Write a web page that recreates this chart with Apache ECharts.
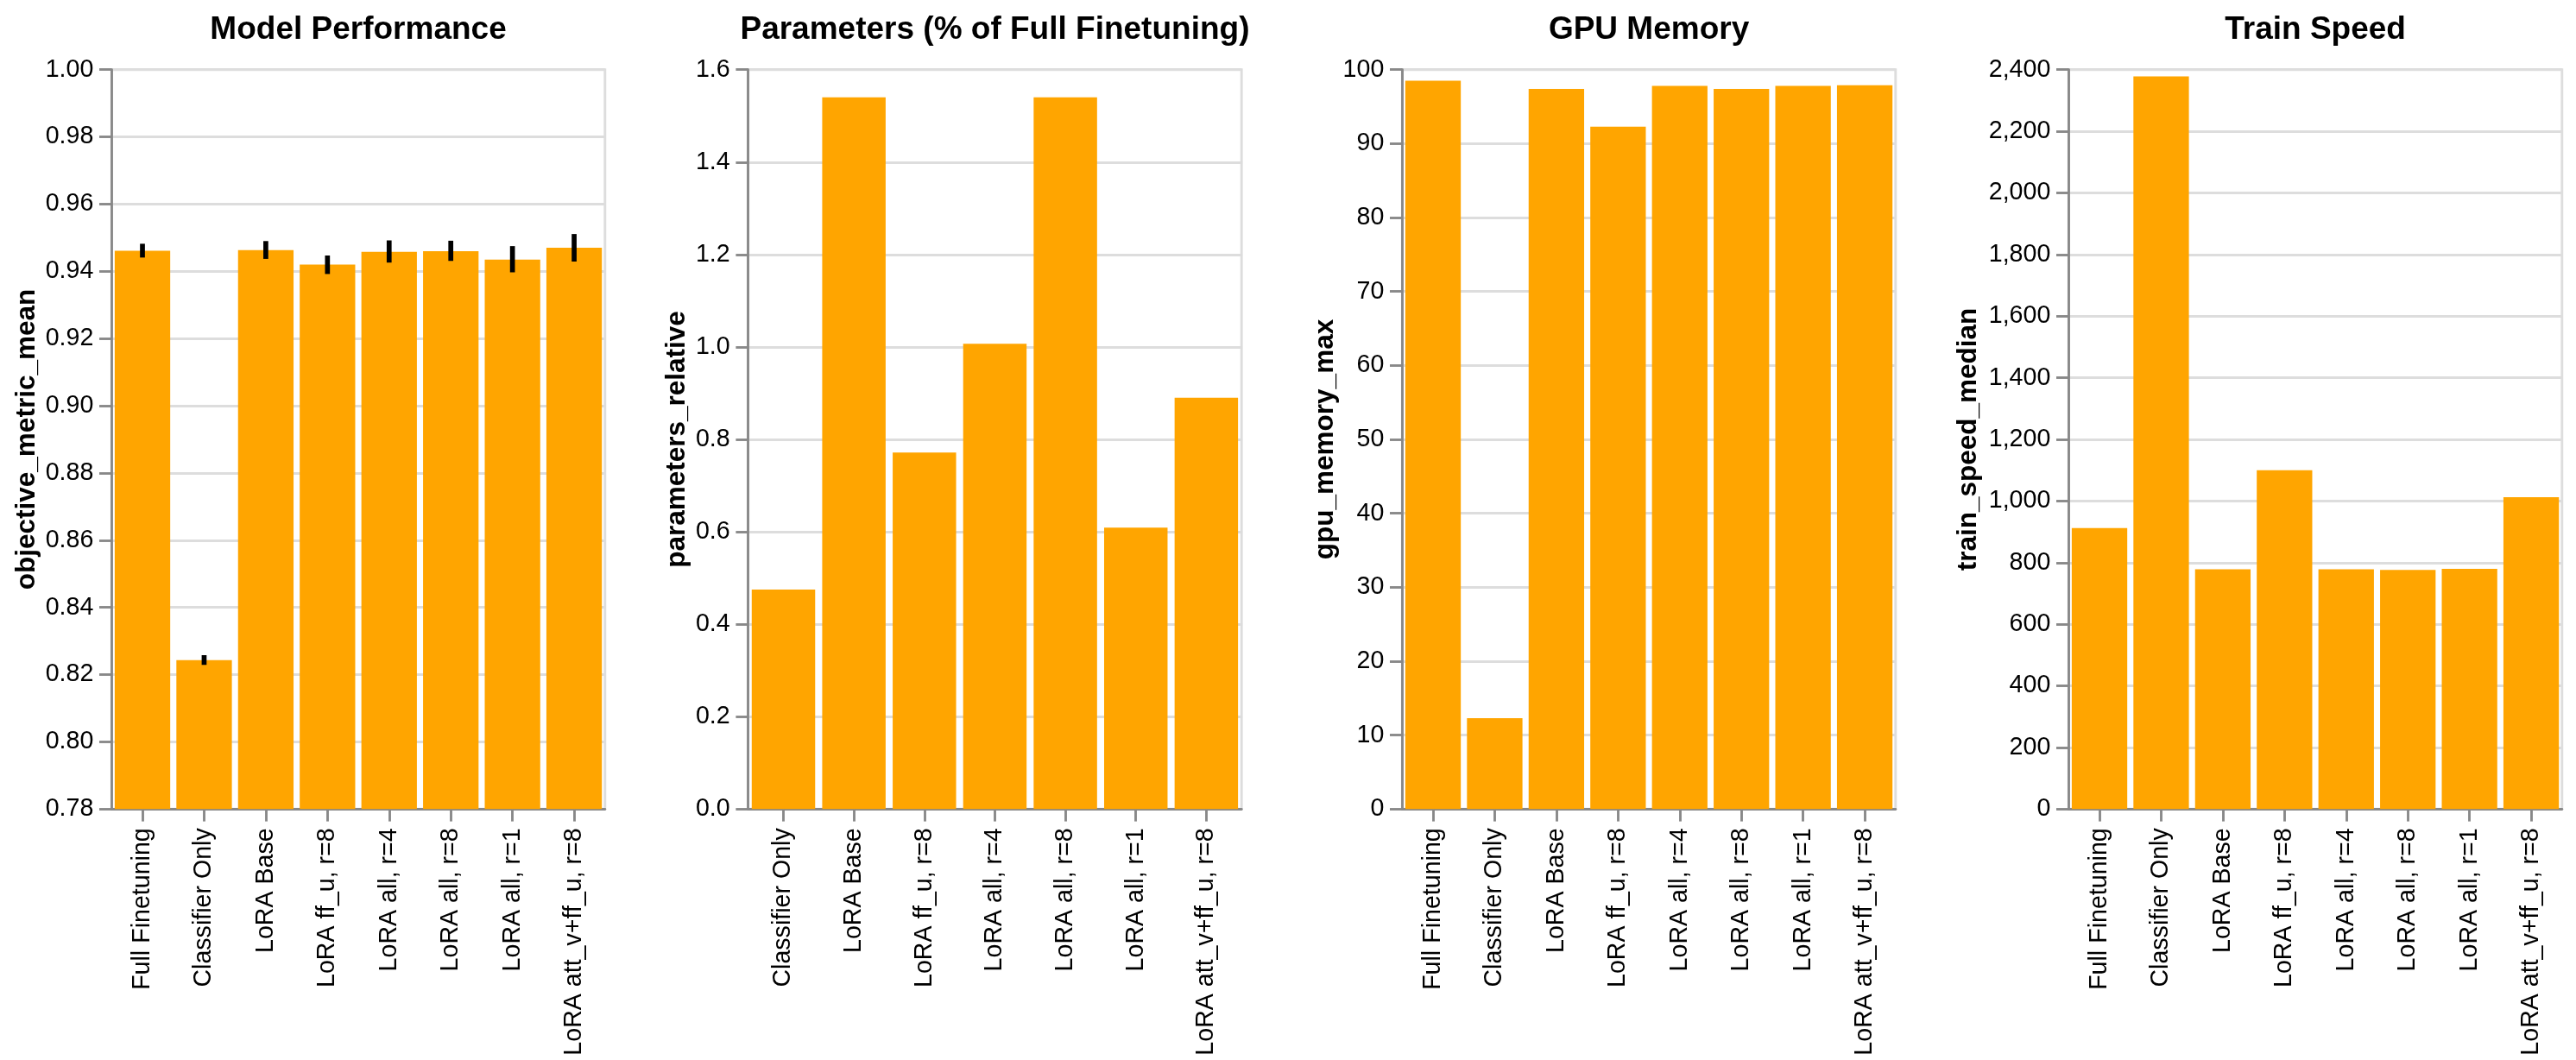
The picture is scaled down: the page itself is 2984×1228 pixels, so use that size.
<!DOCTYPE html>
<html>
<head>
<meta charset="utf-8">
<script src="https://cdn.jsdelivr.net/npm/echarts@6/dist/echarts.min.js"></script>
<style>
  html, body { margin: 0; padding: 0; background: #fff; }
  #chart { width: 2984px; height: 1228px; }
</style>
</head>
<body>
<div id="chart"></div>
<script>
// ---- Data ----
const titles = ['Model Performance', 'Parameters (% of Full Finetuning)', 'GPU Memory', 'Train Speed'];
const axisNames = ['objective_metric_mean', 'parameters_relative', 'gpu_memory_max', 'train_speed_median'];

const categoriesAll = ['Full Finetuning', 'Classifier Only', 'LoRA Base', 'LoRA ff_u, r=8',
  'LoRA all, r=4', 'LoRA all, r=8', 'LoRA all, r=1', 'LoRA att_v+ff_u, r=8'];
const categoriesParams = ['Classifier Only', 'LoRA Base', 'LoRA ff_u, r=8',
  'LoRA all, r=4', 'LoRA all, r=8', 'LoRA all, r=1', 'LoRA att_v+ff_u, r=8'];

const metricMean = [0.9461, 0.8243, 0.9463, 0.9420, 0.9458, 0.9460, 0.9435, 0.9470];
const metricLow  = [0.9441, 0.8229, 0.9437, 0.9392, 0.9426, 0.9431, 0.9397, 0.9429];
const metricHigh = [0.9482, 0.8258, 0.9490, 0.9447, 0.9492, 0.9491, 0.9475, 0.9511];

const paramsRelative = [0.475, 1.540, 0.7715, 1.007, 1.540, 0.609, 0.890];
const gpuMemoryMax = [98.5, 12.3, 97.4, 92.3, 97.8, 97.4, 97.8, 97.9];
const trainSpeedMedian = [912, 2378, 778, 1100, 778, 776, 780, 1012];

const yRanges = [
  { min: 0.78, max: 1.0, interval: 0.02, digits: 2 },
  { min: 0, max: 1.6, interval: 0.2, digits: 1 },
  { min: 0, max: 100, interval: 10, digits: 0 },
  { min: 0, max: 2400, interval: 200, digits: 0 }
];

// ---- Styles ----
const S = 2.86;
const FONT = '"Liberation Sans", Arial, Helvetica, sans-serif';
const BAR = '#FFA500';
const plotLefts = [129.3, 866.7, 1624.3, 2396.3];
const plotWidth = 571.5;
const plotTop = 80.7;
const plotHeight = 856.6;
const nameGaps = [82, 66, 69, 100];

const grids = plotLefts.map(l => ({
  left: l, top: plotTop, width: plotWidth, height: plotHeight,
  containLabel: false, outerBoundsMode: 'none',
  show: true, borderColor: '#ddd', borderWidth: S, backgroundColor: 'transparent'
}));

const catSets = [categoriesAll, categoriesParams, categoriesAll, categoriesAll];

const xAxes = catSets.map((cats, i) => ({
  type: 'category', gridIndex: i, data: cats,
  boundaryGap: true,
  axisLine: { show: true, lineStyle: { color: '#888', width: S } },
  axisTick: { show: true, alignWithLabel: true, length: 14.3, lineStyle: { color: '#888', width: S } },
  axisLabel: { interval: 0, rotate: 90, margin: 22, color: '#000', fontSize: 28.6, fontFamily: FONT, hideOverlap: false },
  splitLine: { show: false }
}));

function fmt(v, d) {
  const s = Number(v).toFixed(d);
  if (d === 0) return Number(s).toLocaleString('en-US');
  return s;
}

const yAxes = yRanges.map((r, i) => ({
  type: 'value', gridIndex: i, min: r.min, max: r.max, interval: r.interval,
  name: axisNames[i], nameLocation: 'middle', nameGap: nameGaps[i], nameRotate: 90,
  nameTextStyle: { color: '#000', fontSize: 31.5, fontWeight: 'bold', fontFamily: FONT },
  axisLine: { show: true, lineStyle: { color: '#888', width: S } },
  axisTick: { show: true, length: 14.3, lineStyle: { color: '#888', width: S } },
  axisLabel: { margin: 21, color: '#000', fontSize: 28.6, fontFamily: FONT,
    formatter: v => fmt(v, r.digits) },
  splitLine: { show: true, lineStyle: { color: '#ddd', width: S } }
}));

const titleOpts = titles.map((t, i) => ({
  text: t, left: plotLefts[i] + plotWidth / 2, textAlign: 'center', top: 16, padding: 0,
  textStyle: { color: '#000', fontSize: 37, fontWeight: 'bold', fontFamily: FONT }
}));

const barStyle = { color: BAR };
const series = [
  { type: 'bar', xAxisIndex: 0, yAxisIndex: 0, data: metricMean, barCategoryGap: '10%', itemStyle: barStyle, silent: true },
  {
    type: 'custom', xAxisIndex: 0, yAxisIndex: 0,
    data: metricMean.map((_, k) => [k, metricLow[k], metricHigh[k]]),
    encode: { x: 0, y: [1, 2] }, silent: true, z: 5,
    renderItem: (params, api) => {
      const x = api.value(0);
      const lo = api.coord([x, api.value(1)]);
      const hi = api.coord([x, api.value(2)]);
      return { type: 'line', shape: { x1: lo[0], y1: lo[1], x2: hi[0], y2: hi[1] },
        style: { stroke: '#000', lineWidth: 5.7 } };
    }
  },
  { type: 'bar', xAxisIndex: 1, yAxisIndex: 1, data: paramsRelative, barCategoryGap: '10%', itemStyle: barStyle, silent: true },
  { type: 'bar', xAxisIndex: 2, yAxisIndex: 2, data: gpuMemoryMax, barCategoryGap: '10%', itemStyle: barStyle, silent: true },
  { type: 'bar', xAxisIndex: 3, yAxisIndex: 3, data: trainSpeedMedian, barCategoryGap: '10%', itemStyle: barStyle, silent: true }
];

const chart = echarts.init(document.getElementById('chart'), null, { renderer: 'canvas' });
chart.setOption({
  backgroundColor: '#fff',
  animation: false,
  title: titleOpts,
  grid: grids,
  xAxis: xAxes,
  yAxis: yAxes,
  series: series
});
</script>
</body>
</html>
